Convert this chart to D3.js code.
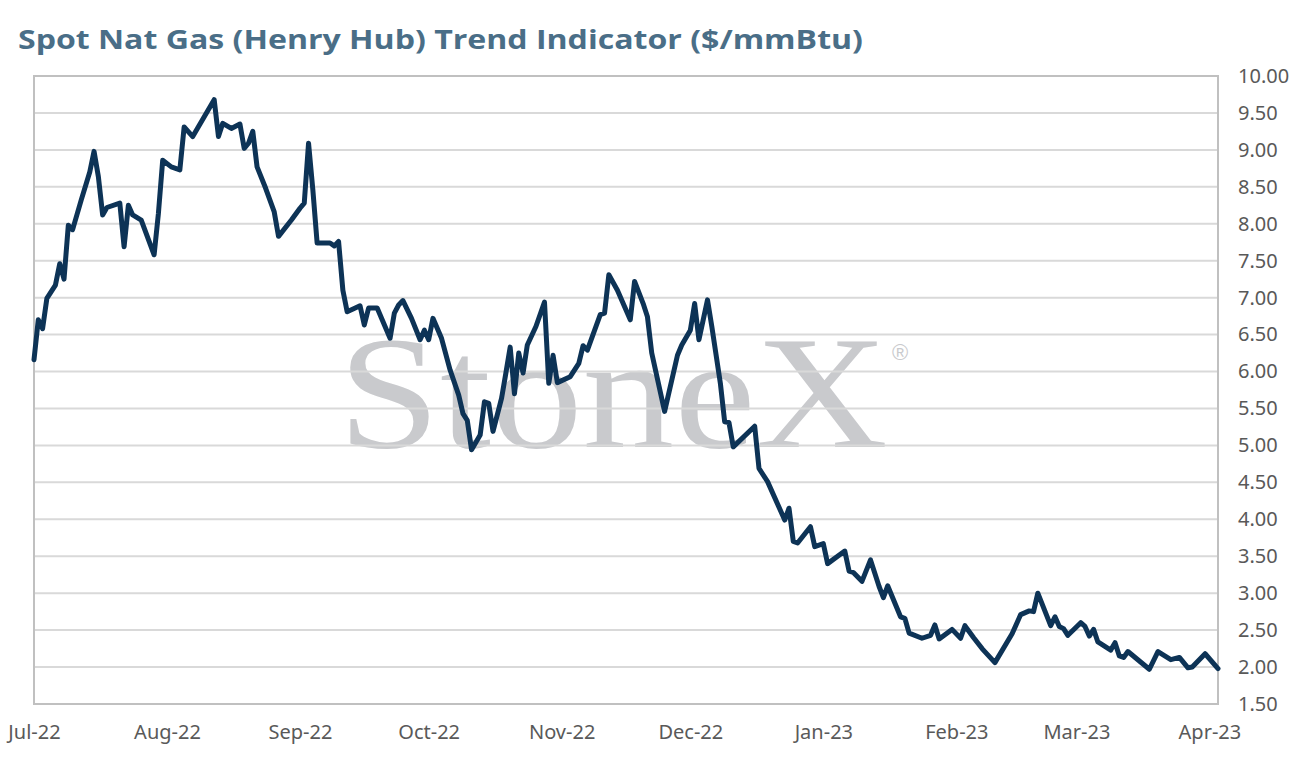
<!DOCTYPE html>
<html>
<head>
<meta charset="utf-8">
<script src="https://cdn.jsdelivr.net/npm/d3@7"></script>
<style>
  html, body { margin: 0; padding: 0; background: #ffffff; }
  svg { display: block; }
</style>
</head>
<body>
<svg id="chart" width="1296" height="766"></svg>
<script>
const titleText = "Spot Nat Gas (Henry Hub) Trend Indicator ($/mmBtu)";
const watermarkText = "StoneX";

const dates = [
  "2022-07-01","2022-07-02","2022-07-03","2022-07-04","2022-07-06","2022-07-07","2022-07-08","2022-07-09","2022-07-10","2022-07-12",
  "2022-07-14","2022-07-15","2022-07-16","2022-07-17","2022-07-18","2022-07-21","2022-07-22","2022-07-23","2022-07-24","2022-07-26",
  "2022-07-29","2022-07-30","2022-07-31","2022-08-02","2022-08-04","2022-08-05","2022-08-07","2022-08-12","2022-08-13","2022-08-14",
  "2022-08-16","2022-08-18","2022-08-19","2022-08-20","2022-08-21","2022-08-22","2022-08-24","2022-08-26","2022-08-27","2022-08-30",
  "2022-09-01","2022-09-02","2022-09-03","2022-09-04","2022-09-05","2022-09-08","2022-09-09","2022-09-10","2022-09-11","2022-09-12",
  "2022-09-15","2022-09-16","2022-09-17","2022-09-19","2022-09-22","2022-09-23","2022-09-24","2022-09-25","2022-09-27","2022-09-29",
  "2022-09-30","2022-10-01","2022-10-02","2022-10-04","2022-10-06","2022-10-08","2022-10-09","2022-10-10","2022-10-11","2022-10-13",
  "2022-10-14","2022-10-15","2022-10-16","2022-10-18","2022-10-19","2022-10-20","2022-10-21","2022-10-22","2022-10-23","2022-10-24",
  "2022-10-26","2022-10-28","2022-10-29","2022-10-30","2022-10-31","2022-11-03","2022-11-05","2022-11-06","2022-11-07","2022-11-10",
  "2022-11-11","2022-11-12","2022-11-14","2022-11-17","2022-11-18","2022-11-20","2022-11-21","2022-11-22","2022-11-25","2022-11-28",
  "2022-11-29","2022-12-01","2022-12-02","2022-12-03","2022-12-05","2022-12-06","2022-12-08","2022-12-09","2022-12-10","2022-12-11",
  "2022-12-16","2022-12-17","2022-12-19","2022-12-23","2022-12-24","2022-12-25","2022-12-26","2022-12-29","2022-12-30","2023-01-01",
  "2023-01-02","2023-01-06","2023-01-07","2023-01-08","2023-01-10","2023-01-12","2023-01-14","2023-01-15","2023-01-16","2023-01-19",
  "2023-01-20","2023-01-21","2023-01-24","2023-01-26","2023-01-27","2023-01-28","2023-01-31","2023-02-02","2023-02-03","2023-02-05",
  "2023-02-07","2023-02-10","2023-02-14","2023-02-16","2023-02-18","2023-02-19","2023-02-20","2023-02-23","2023-02-24","2023-02-25",
  "2023-02-26","2023-02-27","2023-03-02","2023-03-03","2023-03-04","2023-03-05","2023-03-06","2023-03-09","2023-03-10","2023-03-11",
  "2023-03-12","2023-03-13","2023-03-18","2023-03-20","2023-03-23","2023-03-25","2023-03-27","2023-03-28","2023-03-31","2023-04-03"
];

const prices = [
  6.16,6.70,6.58,6.99,7.17,7.46,7.25,7.98,7.92,8.32,
  8.70,8.98,8.64,8.12,8.22,8.28,7.69,8.25,8.12,8.05,
  7.58,8.14,8.86,8.77,8.73,9.31,9.18,9.68,9.18,9.36,
  9.29,9.35,9.02,9.09,9.25,8.77,8.48,8.16,7.83,8.05,
  8.21,8.28,9.09,8.46,7.74,7.74,7.70,7.76,7.10,6.81,
  6.89,6.63,6.86,6.86,6.45,6.79,6.90,6.96,6.72,6.43,
  6.56,6.43,6.72,6.45,6.02,5.68,5.43,5.34,4.94,5.14,
  5.59,5.57,5.19,5.64,5.98,6.33,5.70,6.25,5.98,6.36,
  6.61,6.94,5.84,6.22,5.85,5.93,6.11,6.35,6.29,6.77,
  6.79,7.31,7.10,6.70,7.22,6.92,6.74,6.25,5.46,6.22,
  6.36,6.56,6.92,6.43,6.97,6.61,5.84,5.32,5.31,4.98,
  5.26,4.69,4.51,3.99,4.15,3.70,3.68,3.90,3.63,3.67,
  3.40,3.57,3.30,3.28,3.16,3.45,3.09,2.94,3.10,2.68,
  2.66,2.46,2.39,2.43,2.57,2.38,2.51,2.39,2.56,2.40,
  2.25,2.06,2.45,2.71,2.76,2.75,3.00,2.56,2.68,2.55,
  2.52,2.43,2.60,2.55,2.42,2.51,2.34,2.23,2.33,2.15,
  2.13,2.21,1.97,2.21,2.10,2.13,1.99,2.00,2.18,1.98
];

const yTicks = [1.5,2,2.5,3,3.5,4,4.5,5,5.5,6,6.5,7,7.5,8,8.5,9,9.5,10];
const xDomain = ["2022-07-01", "2023-04-03"];
const xTickDates = ["2022-07-01","2022-08-01","2022-09-01","2022-10-01","2022-11-01","2022-12-01","2023-01-01","2023-02-01","2023-03-01","2023-04-01"];

const parse = d3.timeParse("%Y-%m-%d");
const data = dates.map((d, i) => ({ date: parse(d), value: prices[i] }));

const svg = d3.select("#chart");
const plotL = 34, plotR = 1218, plotT = 76, plotB = 704;

const x = d3.scaleTime().domain(xDomain.map(parse)).range([plotL, plotR]);
const y = d3.scaleLinear().domain([1.5, 10]).range([plotB, plotT]);

const tickFont = "'Noto Sans', 'Open Sans', sans-serif";

// Title
svg.append("text")
  .attr("x", 18).attr("y", 49)
  .attr("font-family", "'Open Sans', 'Noto Sans', sans-serif")
  .attr("font-weight", 700)
  .attr("font-size", 27)
  .attr("fill", "#4a6e87")
  .attr("textLength", 845)
  .attr("lengthAdjust", "spacingAndGlyphs")
  .text(titleText);

// Watermark
const wm = svg.append("g");
wm.append("text")
  .attr("x", 338).attr("y", 447)
  .attr("font-family", "'Liberation Serif', 'DejaVu Serif', serif")
  .attr("font-size", 162)
  .attr("fill", "#c9cacd")
  .attr("textLength", 550)
  .attr("lengthAdjust", "spacingAndGlyphs")
  .text(watermarkText);
wm.append("text")
  .attr("x", 892).attr("y", 360)
  .attr("font-family", "'Liberation Sans', sans-serif")
  .attr("font-size", 22)
  .attr("fill", "#c9cacd")
  .text("\u00AE");

// Gridlines
svg.append("g")
  .selectAll("line")
  .data(yTicks.filter(t => t > 1.5 && t < 10))
  .join("line")
  .attr("x1", plotL).attr("x2", plotR)
  .attr("y1", d => y(d)).attr("y2", d => y(d))
  .attr("stroke", "#d9d9d9")
  .attr("stroke-width", 2);

// Frame
svg.append("rect")
  .attr("x", plotL).attr("y", plotT)
  .attr("width", plotR - plotL).attr("height", plotB - plotT)
  .attr("fill", "none")
  .attr("stroke", "#c0c0c0")
  .attr("stroke-width", 2);

// Right Y axis
const yAxis = d3.axisRight(y).tickValues(yTicks).tickFormat(d3.format(".2f")).tickSize(0).tickPadding(20);
const gy = svg.append("g").attr("transform", `translate(${plotR},0)`).call(yAxis);
gy.select(".domain").remove();
gy.selectAll("text")
  .attr("font-family", tickFont)
  .attr("font-size", 20)
  .attr("fill", "#595959");

// X axis
const xAxis = d3.axisBottom(x).tickValues(xTickDates.map(parse)).tickFormat(d3.timeFormat("%b-%y")).tickSize(0).tickPadding(21);
const gx = svg.append("g").attr("transform", `translate(0,${plotB})`).call(xAxis);
gx.select(".domain").remove();
gx.selectAll("text")
  .attr("font-family", tickFont)
  .attr("font-size", 20)
  .attr("fill", "#595959");

// Line
const line = d3.line().x(d => x(d.date)).y(d => y(d.value));
svg.append("path")
  .datum(data)
  .attr("d", line)
  .attr("fill", "none")
  .attr("stroke", "#0d3356")
  .attr("stroke-width", 5)
  .attr("stroke-linejoin", "round")
  .attr("stroke-linecap", "round");
</script>
</body>
</html>
